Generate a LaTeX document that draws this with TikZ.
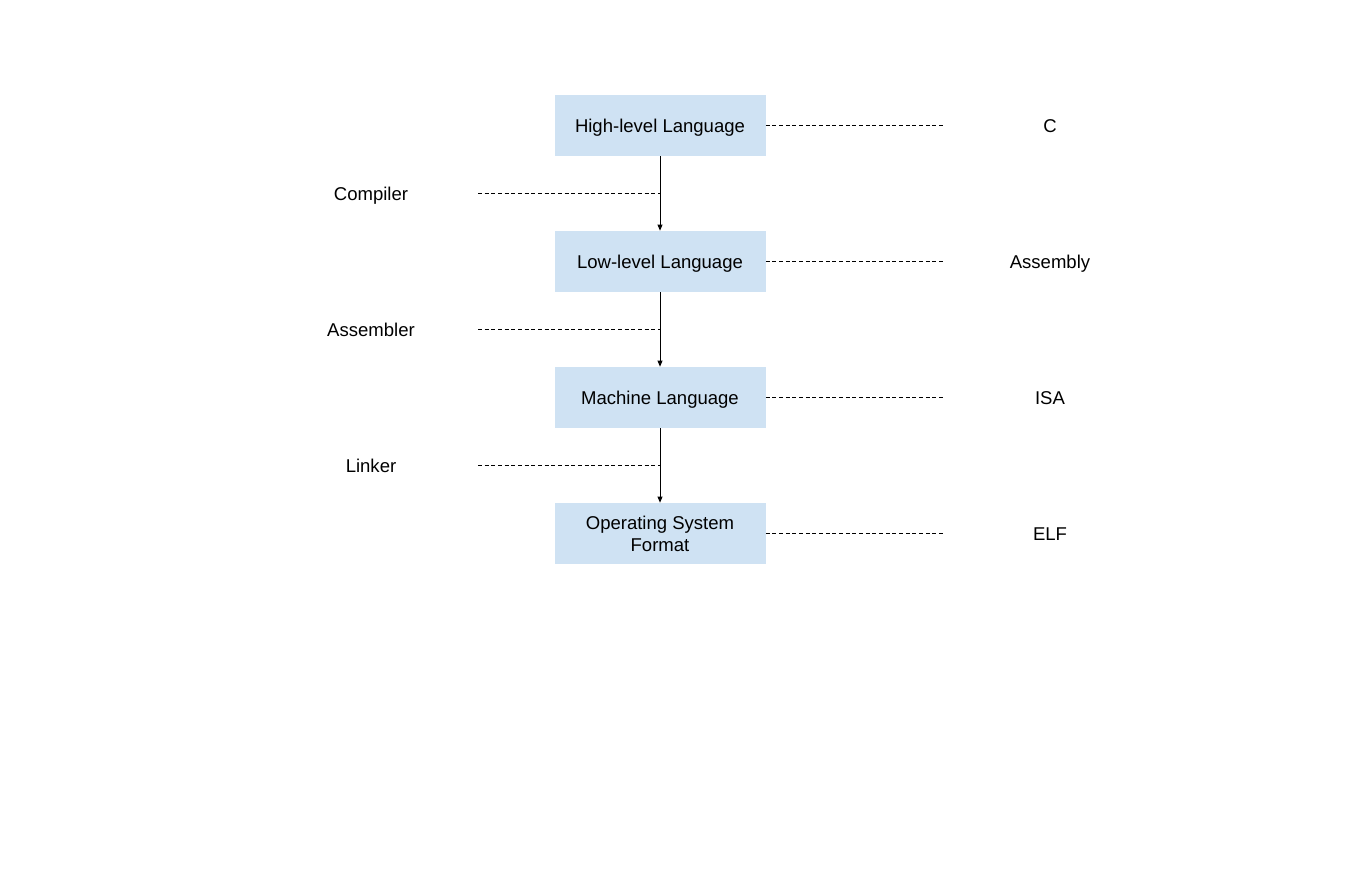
\documentclass[tikz,border=0pt]{standalone}
\usepackage{fontspec}
\setmainfont{Liberation Sans}
\usetikzlibrary{arrows.meta}
\definecolor{boxblue}{HTML}{CFE2F3}
\begin{document}
\begin{tikzpicture}[x=0.75pt,y=-0.75pt,
  box/.style={fill=boxblue,draw=none,minimum width=158.25pt,minimum height=45.75pt,inner sep=0pt,align=center,text depth=0pt,font=\fontsize{13.9pt}{16.5pt}\selectfont},
  lbl/.style={inner sep=0pt,text depth=0pt,font=\fontsize{13.9pt}{16.5pt}\selectfont},
  flow/.style={line width=0.75pt,-{Triangle[length=4.5pt,width=3.6pt]}},
  guide/.style={line width=0.75pt,dash pattern=on 3pt off 2pt}]
\useasboundingbox (0,0) rectangle (1364,885);
\node[box] (b1) at (660,125.5) {High-level Language};
\node[box] (b2) at (660,261.5) {Low-level Language};
\node[box] (b3) at (660,397.5) {Machine Language};
\node[box] (b4) at (660,533.5) {Operating System\\Format};
\node[lbl] (r1) at (1050,126) {C};
\node[lbl] (r2) at (1050,262) {Assembly};
\node[lbl] (r3) at (1050,398) {ISA};
\node[lbl] (r4) at (1050,534) {ELF};
\node[lbl] (l1) at (371,194) {Compiler};
\node[lbl] (l2) at (371,330) {Assembler};
\node[lbl] (l3) at (371,466) {Linker};
\foreach \i/\y in {1/125.5,2/261.5,3/397.5,4/533.5}{
  \coordinate (re\i) at (945,\y);
  \draw[guide] (b\i.east) -- (re\i);
}
\foreach \i/\y in {1/193,2/329,3/465}{
  \coordinate (ls\i) at (478,\y);
  \coordinate (lm\i) at (660,\y);
  \draw[guide] (ls\i) -- (lm\i);
}
\draw[flow] (b1.south) -- (b2.north);
\draw[flow] (b2.south) -- (b3.north);
\draw[flow] (b3.south) -- (b4.north);
\end{tikzpicture}
\end{document}
